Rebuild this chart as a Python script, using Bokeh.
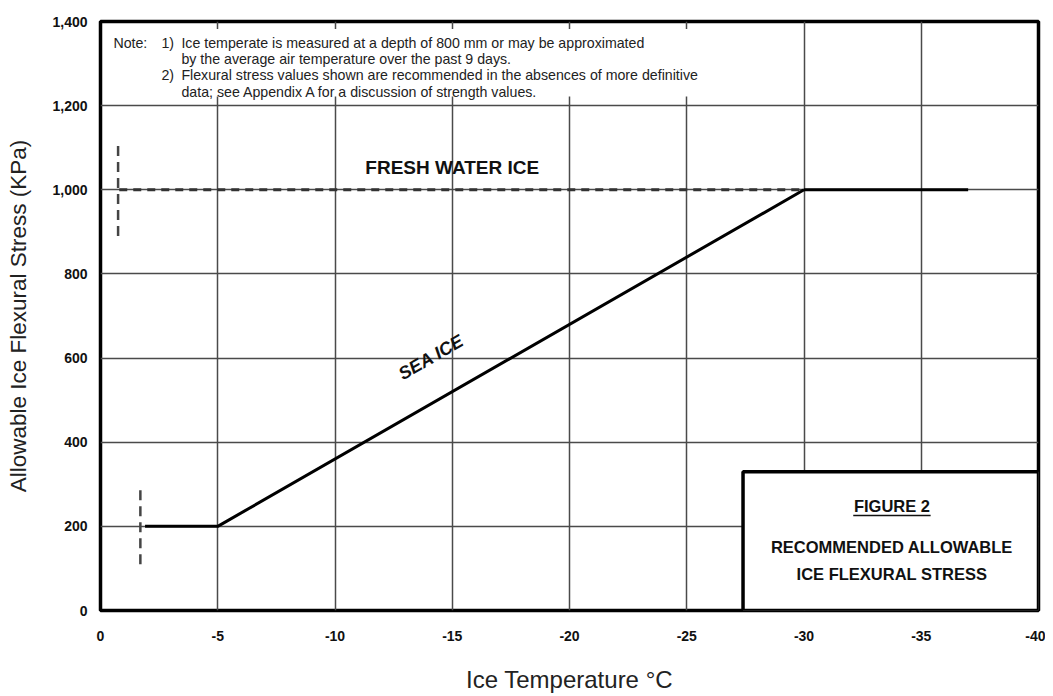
from bokeh.plotting import figure
from bokeh.models import Range1d, FixedTicker, NumeralTickFormatter
from bokeh.core.properties import value
from bokeh.embed import file_html
from bokeh.resources import INLINE
import math

# ---- data ----
x_ticks = [0, -5, -10, -15, -20, -25, -30, -35, -40]
x_tick_labels = ["0", "-5", "-10", "-15", "-20", "-25", "-30", "-35", "-40"]
y_ticks = [0, 200, 400, 600, 800, 1000, 1200, 1400]

fresh_dash_x = [-0.8, -30]
fresh_dash_y = [1000, 1000]
fresh_solid_x = [-30, -37]
fresh_solid_y = [1000, 1000]
fresh_mark_x = [-0.75, -0.75]
fresh_mark_y = [890, 1110]

sea_x = [-1.9, -5, -30]
sea_y = [200, 200, 1000]
sea_mark_x = [-1.7, -1.7]
sea_mark_y = [110, 300]

note_lines = [
    ("Note:", -0.55, 1350),
    ("1)", -2.6, 1350),
    ("Ice temperate is measured at a depth of 800 mm or may be approximated", -3.45, 1350),
    ("by the average air temperature over the past 9 days.", -3.45, 1311),
    ("2)", -2.6, 1272),
    ("Flexural stress values shown are recommended in the absences of more definitive", -3.45, 1272),
    ("data; see Appendix A for a discussion of strength values.", -3.45, 1233),
]

FONT = "Liberation Sans"

p = figure(width=1045, height=695, output_backend="svg", toolbar_location=None,
           x_range=Range1d(0, -40), y_range=Range1d(0, 1400),
           min_border_left=100, min_border_right=7, min_border_top=21, min_border_bottom=81)
p.background_fill_color = "white"
p.border_fill_color = "white"
p.outline_line_color = "black"
p.outline_line_width = 3.5

# axes
p.xaxis.ticker = FixedTicker(ticks=x_ticks)
p.xaxis.major_label_overrides = {t: l for t, l in zip(x_ticks, x_tick_labels)}
p.yaxis.ticker = FixedTicker(ticks=y_ticks)
p.yaxis.formatter = NumeralTickFormatter(format="0,0")
for ax in (p.xaxis[0], p.yaxis[0]):
    ax.axis_line_color = None
    ax.major_tick_line_color = None
    ax.minor_tick_line_color = None
    ax.major_label_text_font = FONT
    ax.major_label_text_font_style = "bold"
    ax.major_label_text_font_size = "14px"
    ax.major_label_text_color = "#111111"
    ax.axis_label_text_font = FONT
    ax.axis_label_text_font_style = "normal"
    ax.axis_label_text_color = "#222222"
p.xaxis.axis_label = "Ice Temperature °C"
p.yaxis.axis_label = "Allowable Ice Flexural Stress (KPa)"
p.xaxis.axis_label_text_font_size = "24px"
p.yaxis.axis_label_text_font_size = "22.5px"
p.xaxis.major_label_standoff = 14
p.xaxis.axis_label_standoff = 22
p.yaxis.major_label_standoff = 7
p.yaxis.axis_label_standoff = 18

# grid
p.xgrid.ticker = FixedTicker(ticks=x_ticks)
p.ygrid.ticker = FixedTicker(ticks=y_ticks)
p.grid.grid_line_color = "#4a4a4a"
p.grid.grid_line_width = 1.5
p.grid.grid_line_alpha = 1.0

# white area behind the note
p.quad(left=[-0.3], right=[-29.6], bottom=[1222], top=[1382],
       fill_color="white", line_color=None)

# notes
for txt, x, y in note_lines:
    p.text(x=[x], y=[y], text=[txt], text_font=value(FONT), text_font_size="14.2px",
           text_color="#222222", text_baseline="middle", text_align="left")

# fresh water ice
p.line(fresh_dash_x, fresh_dash_y, line_color="#333333", line_width=3, line_dash="8 6")
p.line(fresh_solid_x, fresh_solid_y, line_color="black", line_width=3)
p.line(fresh_mark_x, fresh_mark_y, line_color="#444444", line_width=2.5, line_dash="10 6")
p.text(x=[-15.0], y=[1052], text=["FRESH WATER ICE"], text_font=value(FONT),
       text_font_style="bold", text_font_size="19px", text_color="#111111",
       text_align="center", text_baseline="middle")

# sea ice
p.line(sea_x, sea_y, line_color="black", line_width=3)
p.line(sea_mark_x, sea_mark_y, line_color="#444444", line_width=2.5, line_dash="10 6")
p.text(x=[-14.1], y=[602], text=["SEA ICE"], text_font=value(FONT),
       text_font_style="bold italic", text_font_size="18px", text_color="#111111",
       text_align="center", text_baseline="middle", angle=math.radians(30))

# figure caption box
p.quad(left=[-27.4], right=[-40], bottom=[0], top=[330],
       fill_color="white", line_color="black", line_width=3.5)
p.text(x=[-33.75], y=[248], text=["FIGURE 2"], text_font=value(FONT),
       text_font_style="bold", text_font_size="16.5px", text_color="#111111",
       text_align="center", text_baseline="middle")
p.segment(x0=[-32.1], y0=[226], x1=[-35.4], y1=[226], line_color="#111111", line_width=1.5)
p.text(x=[-33.75], y=[152], text=["RECOMMENDED ALLOWABLE"], text_font=value(FONT),
       text_font_style="bold", text_font_size="16.5px", text_color="#111111",
       text_align="center", text_baseline="middle")
p.text(x=[-33.75], y=[86], text=["ICE FLEXURAL STRESS"], text_font=value(FONT),
       text_font_style="bold", text_font_size="16.5px", text_color="#111111",
       text_align="center", text_baseline="middle")

open("out.html", "w").write(file_html(p, INLINE))
